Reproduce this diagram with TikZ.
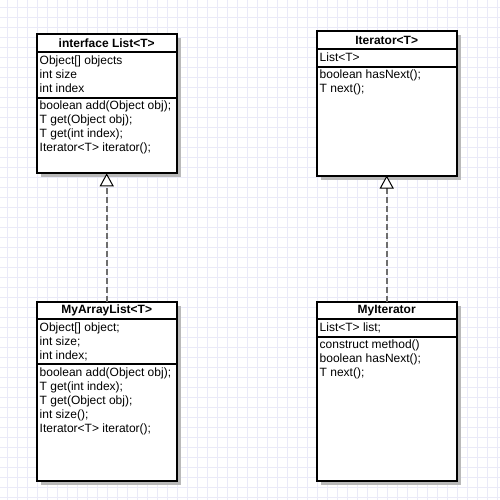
\documentclass[tikz,border=0pt]{standalone}
\usepackage{fontspec}
\setmainfont{Liberation Sans}
\usetikzlibrary{arrows.meta,shadows}
\definecolor{gridline}{RGB}{234,234,248}
\definecolor{shade}{RGB}{185,185,185}
\definecolor{dashgray}{RGB}{110,110,110}

\begin{document}
\begin{tikzpicture}[x=1pt,y=-1pt,
  classbox/.style={draw=black, line width=2pt, fill=white, minimum width=140pt,
    anchor=north west, inner sep=0pt, outer sep=0pt,
    drop shadow={shadow xshift=4pt, shadow yshift=-4pt, fill=shade, opacity=1}},
  sep/.style={line width=2pt},
  title/.style={font=\fontsize{12}{14}\selectfont\bfseries},
  members/.style={font=\fontsize{12}{14}\selectfont, align=left,
    anchor=north west, inner sep=2.3pt},
  realize/.style={dashgray, line width=2pt, dash pattern=on 6pt off 3pt,
    -{Triangle[color=black, fill=white, width=14pt, length=13pt, line width=1pt]}}]
  \useasboundingbox (0,0) rectangle (500,500);
  \foreach \g in {7,17,...,497} {
    \draw[gridline] (\g,0) -- (\g,500);
    \draw[gridline] (0,\g) -- (500,\g);
  }

  % interface List<T>
  \node[classbox, minimum height=139.3pt] (list) at (36.7,34) {};
  \draw[sep] (36.7,52.5) -- (176.7,52.5);
  \draw[sep] (36.7,97.7) -- (176.7,97.7);
  \node[title] (listtitle) at (106.7,43.5) {interface List<T>};
  \node[members] (listattr) at (37.2,53.5) {Object[] objects\\int size\\int index};
  \node[members] (listops) at (37.2,98.7) {boolean add(Object obj);\\T get(Object obj);\\T get(int index);\\Iterator<T> iterator();};

  % Iterator<T>
  \node[classbox, minimum height=144.5pt] (iter) at (316.7,31) {};
  \draw[sep] (316.7,49) -- (456.7,49);
  \draw[sep] (316.7,66.7) -- (456.7,66.7);
  \node[title] (itertitle) at (386.7,40.2) {Iterator<T>};
  \node[members] (iterattr) at (317.2,50) {List<T>};
  \node[members] (iterops) at (317.2,67.7) {boolean hasNext();\\T next();};

  % MyArrayList<T>
  \node[classbox, minimum height=179pt] (arraylist) at (36.7,301.7) {};
  \draw[sep] (36.7,319) -- (176.7,319);
  \draw[sep] (36.7,364) -- (176.7,364);
  \node[title] (arraylisttitle) at (106.7,310.5) {MyArrayList<T>};
  \node[members] (arraylistattr) at (37.2,320) {Object[] object;\\int size;\\int index;};
  \node[members] (arraylistops) at (37.2,365) {boolean add(Object obj);\\T get(int index);\\T get(Object obj);\\int size();\\Iterator<T> iterator();};

  % MyIterator
  \node[classbox, minimum height=179pt] (myiter) at (316.7,301.7) {};
  \draw[sep] (316.7,319.3) -- (456.7,319.3);
  \draw[sep] (316.7,336.7) -- (456.7,336.7);
  \node[title] (myitertitle) at (386.7,310.5) {MyIterator};
  \node[members] (myiterattr) at (317.2,320.3) {List<T> list;};
  \node[members] (myiterops) at (317.2,337.7) {construct method()\\boolean hasNext();\\T next();};

  \draw[realize] (arraylist.north) -- (list.south);
  \draw[realize] (myiter.north) -- (iter.south);
\end{tikzpicture}
\end{document}
